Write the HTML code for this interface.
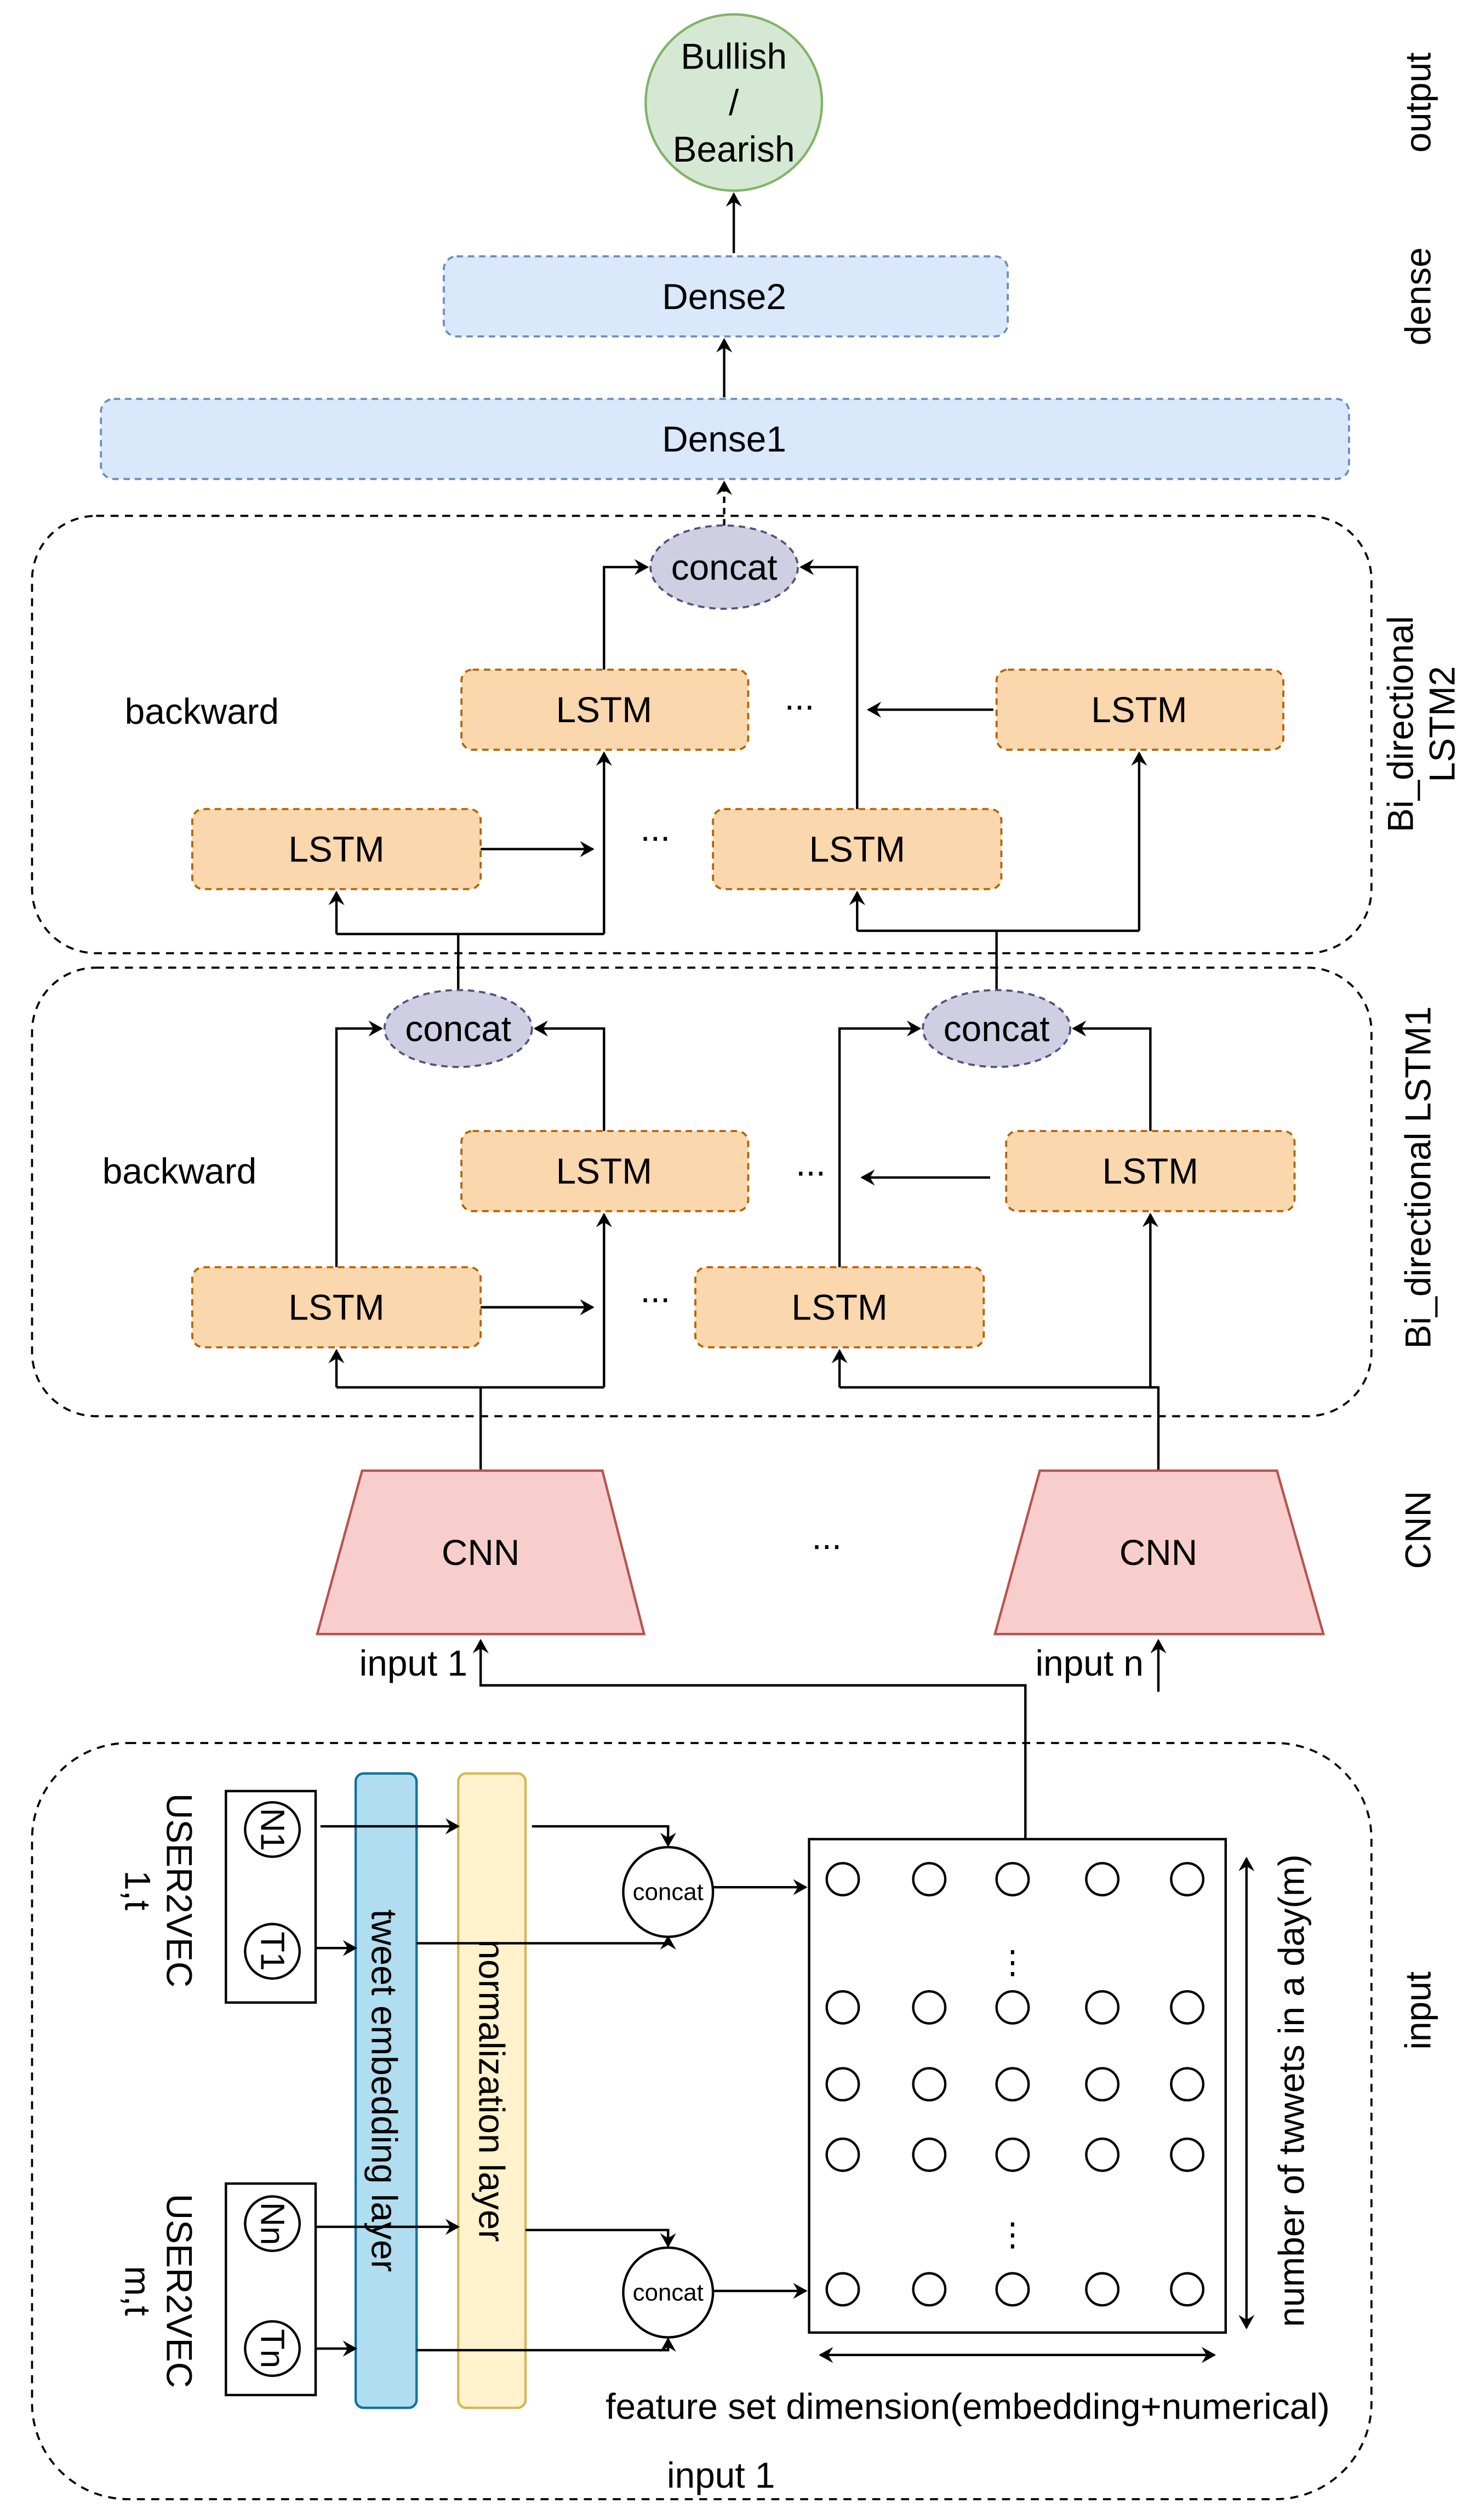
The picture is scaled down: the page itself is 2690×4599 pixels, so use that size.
<!DOCTYPE html>
<html><head><meta charset="utf-8"><style>
html,body{margin:0;padding:0;background:#fff;}
svg{display:block;}
text{font-family:"Liberation Sans",Arial,sans-serif;fill:#000;}
</style></head><body>
<svg width="2690" height="4599" viewBox="0 0 920 1573" preserveAspectRatio="none" xmlns="http://www.w3.org/2000/svg">
<defs>
<marker id="a" markerWidth="10" markerHeight="10" refX="8" refY="5" orient="auto" markerUnits="userSpaceOnUse">
<path d="M0,0 L9,5 L0,10 L3,5 z" fill="#000"/></marker>
<marker id="b" markerWidth="10" markerHeight="10" refX="2" refY="5" orient="auto" markerUnits="userSpaceOnUse">
<path d="M10,0 L1,5 L10,10 L7,5 z" fill="#000"/></marker>
</defs>
<g font-size="22.5" text-anchor="middle" dominant-baseline="central">
<!-- output -->
<circle cx="458" cy="64" r="55" fill="#d5e8d4" stroke="#82b366" stroke-width="1.5"/>
<text x="458" y="35">Bullish</text><text x="458" y="64">/</text><text x="458" y="93">Bearish</text>
<g stroke="#000" stroke-width="1.5" fill="none">
<line x1="458" y1="158" x2="458" y2="121" marker-end="url(#a)"/>
<line x1="452" y1="248" x2="452" y2="212" marker-end="url(#a)"/>
<line x1="452" y1="328" x2="452" y2="301" marker-end="url(#a)" stroke-dasharray="4 3"/>
</g>
<rect x="277" y="160" width="352" height="50" rx="8" fill="#dae8fc" stroke="#6c8ebf" stroke-dasharray="4 3" stroke-width="1.3"/>
<text x="452" y="185">Dense2</text>
<rect x="63" y="249" width="779" height="50" rx="8" fill="#dae8fc" stroke="#6c8ebf" stroke-dasharray="4 3" stroke-width="1.3"/>
<text x="452" y="274">Dense1</text>

<g fill="none" stroke="#000" stroke-width="1.3" stroke-dasharray="5 4">
<rect x="20" y="322" width="836" height="273" rx="40"/>
<rect x="20" y="604" width="836" height="280" rx="40"/>
<rect x="20" y="1088" width="836" height="472" rx="60"/>
</g>

<g stroke="#000" stroke-width="1.5" fill="none">
<polyline points="286,619 286,583"/>
<polyline points="210,583 377,583"/>
<line x1="210" y1="583" x2="210" y2="557" marker-end="url(#a)"/>
<line x1="377" y1="583" x2="377" y2="470" marker-end="url(#a)"/>
<polyline points="622,619 622,581"/>
<polyline points="535,581 711,581"/>
<line x1="535" y1="581" x2="535" y2="557" marker-end="url(#a)"/>
<line x1="711" y1="581" x2="711" y2="470" marker-end="url(#a)"/>
<line x1="300" y1="530" x2="370" y2="530" marker-end="url(#a)"/>
<line x1="620" y1="443" x2="542" y2="443" marker-end="url(#a)"/>
<polyline points="377,418 377,354 404,354" marker-end="url(#a)"/>
<polyline points="535,505 535,354 500,354" marker-end="url(#a)"/>
</g>
<ellipse cx="452" cy="354" rx="46" ry="26" fill="#d0cee2" stroke="#56517e" stroke-dasharray="4 3" stroke-width="1.3"/>
<text x="452" y="354">concat</text>
<g fill="#fad7ac" stroke="#b46504" stroke-dasharray="4 3" stroke-width="1.3">
<rect x="288" y="418" width="179" height="50" rx="7"/>
<rect x="622" y="418" width="179" height="50" rx="7"/>
<rect x="120" y="505" width="180" height="50" rx="7"/>
<rect x="445" y="505" width="180" height="50" rx="7"/>
</g>
<text x="377" y="443">LSTM</text><text x="711" y="443">LSTM</text>
<text x="210" y="530">LSTM</text><text x="535" y="530">LSTM</text>
<text x="126" y="444">backward</text>
<text x="499" y="435">...</text><text x="409" y="517">...</text>

<g stroke="#000" stroke-width="1.5" fill="none">
<polyline points="210,791 210,642 238,642" marker-end="url(#a)"/>
<polyline points="377,706 377,642 334,642" marker-end="url(#a)"/>
<polyline points="524,791 524,642 574,642" marker-end="url(#a)"/>
<polyline points="718,706 718,642 670,642" marker-end="url(#a)"/>
<line x1="300" y1="816" x2="370" y2="816" marker-end="url(#a)"/>
<line x1="618" y1="735" x2="538" y2="735" marker-end="url(#a)"/>
<polyline points="300,918 300,866"/>
<polyline points="210,866 377,866"/>
<line x1="210" y1="866" x2="210" y2="843" marker-end="url(#a)"/>
<line x1="377" y1="866" x2="377" y2="758" marker-end="url(#a)"/>
<polyline points="723,918 723,866 524,866"/>
<line x1="524" y1="866" x2="524" y2="843" marker-end="url(#a)"/>
<polyline points="721,866 718,866 718,758" marker-end="url(#a)"/>
</g>
<g fill="#d0cee2" stroke="#56517e" stroke-dasharray="4 3" stroke-width="1.3">
<ellipse cx="286" cy="642" rx="46" ry="24"/>
<ellipse cx="622" cy="642" rx="46" ry="24"/>
</g>
<text x="286" y="642">concat</text><text x="622" y="642">concat</text>
<g fill="#fad7ac" stroke="#b46504" stroke-dasharray="4 3" stroke-width="1.3">
<rect x="288" y="706" width="179" height="50" rx="7"/>
<rect x="628" y="706" width="180" height="50" rx="7"/>
<rect x="120" y="791" width="180" height="50" rx="7"/>
<rect x="434" y="791" width="180" height="50" rx="7"/>
</g>
<text x="377" y="731">LSTM</text><text x="718" y="731">LSTM</text>
<text x="210" y="816">LSTM</text><text x="524" y="816">LSTM</text>
<text x="112" y="731">backward</text>
<text x="506" y="726">...</text><text x="409" y="805">...</text>

<polygon points="226,918 376,918 402,1020 198,1020" fill="#f8cecc" stroke="#b85450" stroke-width="1.5"/>
<polygon points="649,918 797,918 826,1020 621,1020" fill="#f8cecc" stroke="#b85450" stroke-width="1.5"/>
<text x="300" y="969">CNN</text><text x="723" y="969">CNN</text>
<text x="516" y="959">...</text>
<text x="258" y="1038">input 1</text><text x="680" y="1038">input n</text>
<g stroke="#000" stroke-width="1.5" fill="none">
<polyline points="640,1148 640,1052 300,1052 300,1024" marker-end="url(#a)"/>
<line x1="723" y1="1056" x2="723" y2="1024" marker-end="url(#a)"/>
</g>

<rect x="222" y="1107" width="38" height="396" rx="5" fill="#b1ddf0" stroke="#10739e" stroke-width="1.5"/>
<rect x="286" y="1107" width="42" height="396" rx="5" fill="#fff2cc" stroke="#d6b656" stroke-width="1.5"/>
<g fill="none" stroke="#000" stroke-width="1.5">
<rect x="141" y="1118" width="56" height="132"/>
<rect x="141" y="1363" width="56" height="132"/>
<circle cx="170" cy="1142" r="17"/><circle cx="170" cy="1218" r="17"/>
<circle cx="170" cy="1388" r="17"/><circle cx="170" cy="1466" r="17"/>
<line x1="200" y1="1140" x2="286" y2="1140" marker-end="url(#a)"/>
<line x1="197" y1="1216" x2="222" y2="1216" marker-end="url(#a)"/>
<polyline points="332,1140 417,1140 417,1152" marker-end="url(#a)"/>
<polyline points="260,1213 417,1213 417,1209" marker-end="url(#a)"/>
<line x1="445" y1="1178" x2="503" y2="1178" marker-end="url(#a)"/>
<line x1="197" y1="1390" x2="286" y2="1390" marker-end="url(#a)"/>
<line x1="197" y1="1466" x2="222" y2="1466" marker-end="url(#a)"/>
<polyline points="328,1392 417,1392 417,1402" marker-end="url(#a)"/>
<polyline points="260,1467 417,1467 417,1460" marker-end="url(#a)"/>
<line x1="445" y1="1430" x2="503" y2="1430" marker-end="url(#a)"/>
<circle cx="417" cy="1181" r="28" fill="#fff"/>
<circle cx="417" cy="1431" r="28" fill="#fff"/>
<rect x="505" y="1148" width="260" height="308"/>
<line x1="778" y1="1160" x2="778" y2="1453" marker-start="url(#b)" marker-end="url(#a)"/>
<line x1="512" y1="1470" x2="758" y2="1470" marker-start="url(#b)" marker-end="url(#a)"/>
</g>
<g stroke="#000" stroke-width="1.5" fill="none">
<circle cx="526" cy="1173" r="10"/><circle cx="580" cy="1173" r="10"/><circle cx="632" cy="1173" r="10"/><circle cx="688" cy="1173" r="10"/><circle cx="741" cy="1173" r="10"/>
<circle cx="526" cy="1253" r="10"/><circle cx="580" cy="1253" r="10"/><circle cx="632" cy="1253" r="10"/><circle cx="688" cy="1253" r="10"/><circle cx="741" cy="1253" r="10"/>
<circle cx="526" cy="1301" r="10"/><circle cx="580" cy="1301" r="10"/><circle cx="632" cy="1301" r="10"/><circle cx="688" cy="1301" r="10"/><circle cx="741" cy="1301" r="10"/>
<circle cx="526" cy="1345" r="10"/><circle cx="580" cy="1345" r="10"/><circle cx="632" cy="1345" r="10"/><circle cx="688" cy="1345" r="10"/><circle cx="741" cy="1345" r="10"/>
<circle cx="526" cy="1429" r="10"/><circle cx="580" cy="1429" r="10"/><circle cx="632" cy="1429" r="10"/><circle cx="688" cy="1429" r="10"/><circle cx="741" cy="1429" r="10"/>
</g>
<text x="632" y="1225" font-size="20">⋮</text><text x="632" y="1395" font-size="20">⋮</text>
<text x="417" y="1181" font-size="15">concat</text><text x="417" y="1431" font-size="15">concat</text>
<g font-size="21">
<text transform="translate(170,1142) rotate(90)">N1</text>
<text transform="translate(170,1218) rotate(90)">T1</text>
<text transform="translate(170,1388) rotate(90)">Nn</text>
<text transform="translate(170,1466) rotate(90)">Tn</text>
</g>
<text transform="translate(112,1180) rotate(90)">USER2VEC</text>
<text transform="translate(86,1180) rotate(90)">1,t</text>
<text transform="translate(112,1430) rotate(90)">USER2VEC</text>
<text transform="translate(86,1430) rotate(90)">m,t</text>
<text transform="translate(240,1305) rotate(90)">tweet embedding layer</text>
<text transform="translate(307,1305) rotate(90)">normalization layer</text>
<text transform="translate(806,1305) rotate(-90)">number of twwets in a day(m)</text>
<text x="604" y="1502">feature set dimension(embedding+numerical)</text>
<text x="450" y="1545">input 1</text>

<text transform="translate(885,64) rotate(-90)">output</text>
<text transform="translate(885,185) rotate(-90)">dense</text>
<text transform="translate(874,452) rotate(-90)">Bi_directional</text>
<text transform="translate(900,452) rotate(-90)">LSTM2</text>
<text transform="translate(885,735) rotate(-90)">Bi_directional LSTM1</text>
<text transform="translate(885,955) rotate(-90)">CNN</text>
<text transform="translate(885,1255) rotate(-90)">input</text>
</g>
</svg>
</body></html>
